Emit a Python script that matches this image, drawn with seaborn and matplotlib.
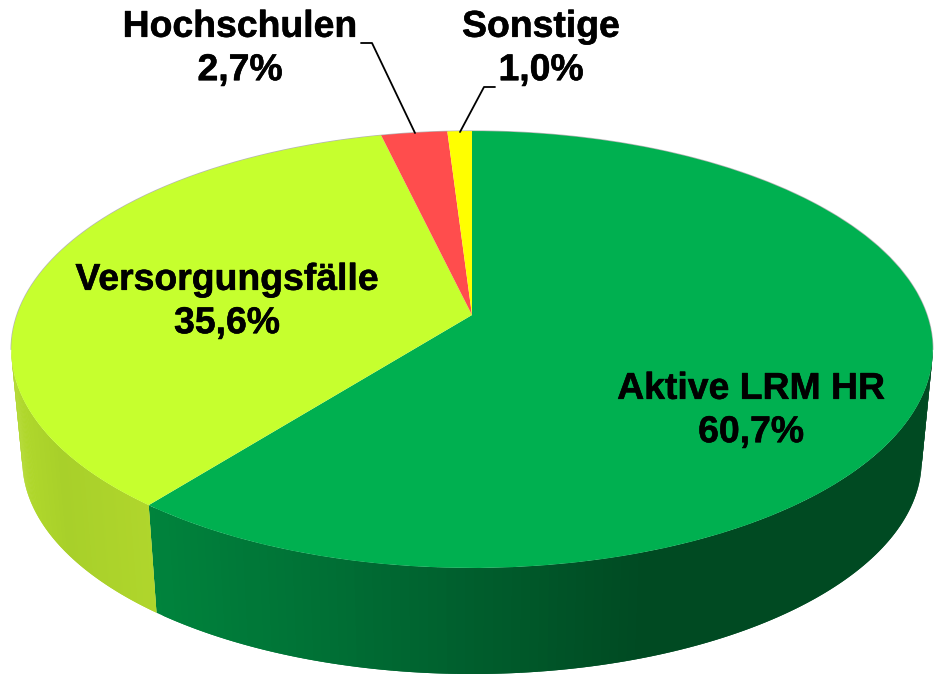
#!/usr/bin/env python3
"""Tilted pie with a shaded rim, drawn on a pixel-sized axes."""

import matplotlib.patheffects as pe
import matplotlib.pyplot as plt
import numpy as np
import seaborn as sns
from matplotlib.colors import to_rgb
from matplotlib.transforms import Transform

categories = ["Aktive LRM HR", "Versorgungsfälle", "Hochschulen", "Sonstige"]
shares = [60.7, 35.6, 2.7, 1.0]
top_colors = ["#00b050", "#c6ff2e", "#ff4d4d", "#ffff00"]

# rim shading per slice, as (pixel x, colour) stops
rim_x = [0, 60, 150, 300, 450, 640, 934]
rim_colors = [
    ["#00833c", "#00833c", "#00833c", "#007236", "#00602e", "#004a22", "#004a22"],
    ["#b4dc2c", "#a8d02a", "#b0d62c", "#aed42c", "#aed42c", "#aed42c", "#aed42c"],
    ["#c43c3c"] * 7,
    ["#c8c800"] * 7,
]

# one text position and optional leader line per category
label_pos = [(751, 411), (227, 302), (240, 49), (541, 49)]
leaders = [None, None, [(361, 43), (372, 43), (415, 133)], [(495, 87), (484, 87), (460, 132)]]

K = 0.158
TOP = (472, 315, 455, 213)
BOTTOM = (472, 427, 444, 208)


def project(x, y, plane=TOP):
    cx, cy, a, b = plane
    w = 1 + K * y
    return cx + a * x / w, cy - b * y / w


class TiltTransform(Transform):
    input_dims = 2
    output_dims = 2

    def transform_non_affine(self, values):
        values = np.asarray(values)
        px, py = project(values[:, 0], values[:, 1])
        return np.column_stack([px, py])


sns.set_theme(style="white")
plt.rcParams["font.family"] = ["Liberation Sans", "DejaVu Sans"]

fig = plt.figure(figsize=(9.34, 6.74), dpi=100)
ax = fig.add_axes([0, 0, 1, 1])

wedges, _ = ax.pie(shares, colors=sns.color_palette(top_colors), startangle=90,
                   counterclock=False, radius=1, wedgeprops={"linewidth": 0})
ax.set_aspect("auto")
ax.set_xlim(0, 934)
ax.set_ylim(674, 0)

for wedge in wedges:
    wedge.set_transform(TiltTransform() + ax.transData)
    wedge.set_zorder(3)

edge = np.degrees(np.arcsin(K))

# thin grey line round the back of the top face
t = np.radians(np.linspace(-edge, 180 + edge, 400))
rx, ry = project(np.cos(t), np.sin(t))
ax.plot(rx, ry, color="#b5b5b5", lw=1.0, zorder=2)

# rim strips, only where the side faces the viewer
start = 90.0
for share, stops in zip(shares, rim_colors):
    end = start - share * 3.6
    # wrap into the visible lower half
    lo, hi = end % 360, (start % 360) or 360
    if hi < lo:
        hi += 360
    lo, hi = max(lo, 180 + edge), min(hi, 360 - edge)
    start = end
    if lo >= hi:
        continue
    t = np.radians(np.linspace(lo, hi, 121))
    x1, y1 = project(np.cos(t), np.sin(t))
    x2, y2 = project(np.cos(t), np.sin(t), BOTTOM)
    rgb = np.array([to_rgb(c) for c in stops])
    for i in range(len(t) - 1):
        # each strip runs under the next one so no seams show
        j = min(i + 2, len(t) - 1)
        shade = [np.interp(x1[i], rim_x, rgb[:, n]) for n in range(3)]
        ax.fill(np.r_[x1[i:j + 1], x2[i:j + 1][::-1]], np.r_[y1[i:j + 1], y2[i:j + 1][::-1]],
                color=shade, lw=0, zorder=1)

for name, value, pos, leader in zip(categories, shares, label_pos, leaders):
    text = f"{name}\n{value:.1f}%".replace(".", ",")
    ax.text(pos[0], pos[1], text, ha="center", va="center", fontsize=26.9,
            fontweight="bold", color="black", linespacing=1.31, zorder=5,
            path_effects=[pe.withStroke(linewidth=0.4, foreground="black")])
    if leader:
        ax.plot([p[0] for p in leader], [p[1] for p in leader], color="black", lw=1.3, zorder=4)

ax.set_axis_off()
fig.savefig("out.png", dpi=100)
